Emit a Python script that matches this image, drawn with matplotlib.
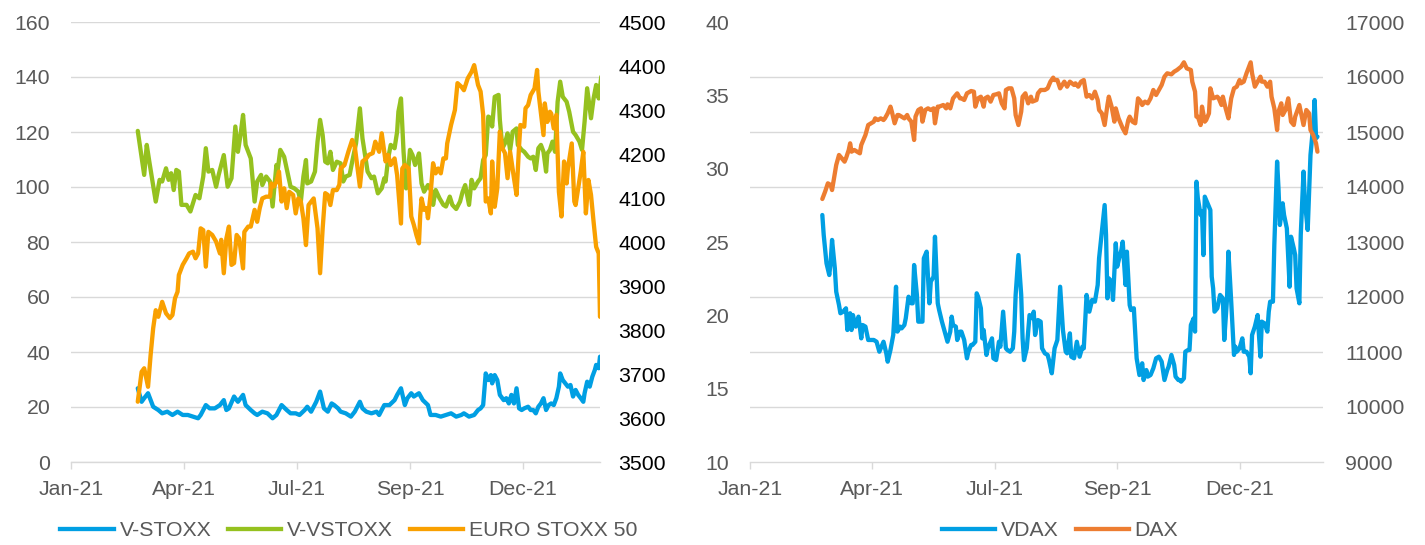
import numpy as np
import pandas as pd
import matplotlib
matplotlib.use("Agg")
import matplotlib.pyplot as plt
import matplotlib.dates as mdates
from matplotlib.lines import Line2D

plt.rcParams['font.family'] = ['Liberation Sans', 'DejaVu Sans']

# ---------------------------------------------------------------- data
# Daily observations, given as day offsets from the first trading day
START = pd.Timestamp('2021-03-01')
AXIS_START = pd.Timestamp('2021-01-08')
AXIS_END = pd.Timestamp('2022-02-24')
TICK_STEP_DAYS = 88

vstoxx_day = [0, 3, 5, 8, 12, 16, 19, 23, 27, 31, 35, 39, 43, 47, 49, 53, 56, 60, 64, 67,
              69, 71, 75, 78, 82, 84, 88, 91, 93, 97, 101, 105, 108, 112, 116, 119, 123, 126, 130, 132,
              135, 139, 142, 145, 148, 151, 153, 156, 158, 162, 166, 169, 173, 175, 178, 182, 186, 188, 192, 196,
              200, 202, 205, 208, 210, 213, 215, 219, 222, 226, 228, 232, 236, 240, 244, 248, 252, 254, 258, 262,
              265, 267, 269, 271, 273, 275, 276, 278, 280, 282, 285, 287, 289, 291, 293, 295, 297, 299, 301, 304,
              306, 308, 310, 312, 314, 316, 318, 320, 322, 324, 326, 328, 329, 331, 333, 335, 337, 339, 341, 343,
              345, 347, 348, 350, 352, 354, 356, 357, 359, 360]
vstoxx = [26.8, 21.9, 23.2, 25.0, 20.1, 18.9, 17.7, 18.3, 17.1, 18.3, 17.1, 17.1, 16.5, 15.9, 17.1, 20.7, 19.5, 19.5, 20.7, 22.5,
          18.9, 19.5, 23.8, 21.9, 24.4, 20.7, 18.9, 17.7, 17.1, 18.3, 17.7, 15.9, 17.1, 20.7, 18.9, 17.7, 17.7, 17.1, 18.9, 20.1,
          18.3, 21.9, 25.6, 19.5, 18.3, 21.3, 20.7, 19.5, 18.3, 17.7, 16.5, 18.3, 21.9, 19.5, 18.3, 17.7, 18.3, 17.1, 20.7, 20.7,
          22.5, 24.4, 26.8, 20.7, 23.2, 25.0, 23.8, 25.0, 22.5, 20.7, 17.1, 17.1, 16.5, 17.1, 17.7, 16.5, 17.1, 17.7, 16.5, 17.1,
          18.9, 19.5, 20.7, 32.2, 29.8, 31.6, 28.6, 31.6, 29.8, 24.4, 22.5, 23.2, 21.3, 24.4, 21.3, 26.8, 19.5, 18.9, 19.5, 20.1,
          18.9, 18.9, 17.7, 20.1, 21.3, 23.2, 18.9, 20.7, 21.3, 20.7, 23.2, 27.4, 32.2, 29.8, 28.6, 27.4, 28.0, 23.8, 26.2, 24.4,
          23.2, 21.9, 25.0, 29.2, 27.4, 31.0, 33.5, 35.3, 34.1, 38.3]

vvstoxx_day = [0, 5, 7, 9, 14, 17, 19, 22, 24, 26, 28, 30, 32, 34, 38, 41, 43, 45, 48, 51,
               53, 55, 58, 61, 63, 67, 70, 73, 76, 78, 80, 82, 84, 88, 91,
               93, 96, 97, 100, 103, 105, 108, 109, 111, 114, 117, 119, 122, 125, 127, 129, 131, 132, 135, 138,
               140, 142, 144, 146, 148, 150, 152, 155, 158, 160, 162, 165, 167, 170, 173,
               175, 177, 179, 182, 184, 187, 190, 192, 193, 195, 197, 200, 202, 203, 205, 207, 209, 211, 212, 214,
               216, 219, 221, 223, 226, 229, 230, 232, 235, 238, 240, 243, 245, 248, 251, 253, 255, 258, 260, 262,
               265, 267, 269, 271, 273, 275, 276, 278, 281, 282, 284, 286, 288, 290, 292, 295, 296, 299, 301, 304,
               306, 308, 310, 312, 314, 316, 318, 319, 321, 323, 325, 327, 329, 331, 334, 336, 339, 341, 344, 346,
               348, 350, 353, 355, 357, 359, 361]
vvstoxx = [120.4, 104.4, 115.3, 109.2, 94.7, 102.6, 102.0, 106.8, 102.6, 105.0, 98.9, 106.2, 105.6, 93.5, 93.5, 91.1, 94.1, 97.1, 95.9, 103.8,
           114.1, 105.6, 106.2, 100.1, 104.4, 111.6, 100.1, 103.2, 122.0, 112.8, 118.9, 126.2, 115.3, 110.4, 94.7,
           102.0, 104.4, 100.7, 103.8, 102.0, 92.9, 108.0, 106.2, 113.5, 111.0, 104.4, 100.1, 99.5, 98.3, 94.7, 103.8, 109.8, 101.3, 102.0, 105.6,
           116.5, 124.4, 118.9, 109.2, 108.6, 112.8, 106.2, 109.2, 108.6, 102.0, 103.8, 104.4, 109.2, 115.9, 128.6,
           117.7, 111.6, 105.6, 103.2, 103.8, 97.7, 99.5, 103.2, 102.0, 110.4, 115.3, 114.1, 120.1, 127.4, 132.2, 112.8, 99.5, 108.0, 113.5, 111.6,
           108.0, 112.2, 101.3, 98.3, 100.7, 98.3, 93.5, 98.9, 95.9, 93.5, 92.9, 96.5, 93.5, 92.0, 94.7, 98.3, 100.7, 93.5, 102.6, 99.5,
           102.0, 103.2, 109.8, 111.6, 125.6, 125.0, 122.0, 132.8, 133.5, 124.4, 114.1, 115.9, 119.5, 113.5, 120.1, 121.3, 115.3, 113.5, 112.8, 111.0,
           110.4, 111.0, 106.2, 114.1, 115.3, 112.8, 105.6, 112.2, 113.5, 116.5, 112.8, 131.0, 138.3, 132.8, 131.0, 127.4, 120.1, 118.9, 116.5, 113.5,
           123.8, 135.9, 125.0, 132.2, 137.1, 132.2, 140.1]

esx50_day = [0, 3, 5, 8, 10, 12, 14, 16, 19, 22, 25, 27, 29, 31, 32, 35, 38, 40, 43, 45,
             47, 49, 51, 53, 55, 58, 61, 64, 65, 67, 69, 71, 73, 75, 77, 79, 82, 83, 86, 88,
             91, 93, 95, 97, 100, 103, 104, 106, 108, 110, 112, 114, 116, 118, 121, 123, 125, 127, 129, 131,
             133, 137, 140, 142, 144, 146, 148, 150, 152, 155, 157, 158, 161, 164, 167, 169, 173, 175, 178, 180,
             183, 185, 188, 190, 193, 195, 197, 200, 202, 205, 206, 208, 211, 213, 215, 217, 219, 220, 221, 223,
             225, 226, 228, 230, 232, 234, 236, 238, 240, 241, 244, 247, 249, 252, 254, 257, 260, 262, 265, 267,
             269, 271, 273, 275, 276, 278, 280, 282, 284, 286, 288, 290, 293, 295, 297, 298, 301, 302, 304, 306,
             309, 311, 312, 314, 316, 317, 319, 321, 322, 324, 326, 328, 330, 332, 334, 335, 338, 340, 341, 343,
             345, 347, 349, 351, 353, 355, 357, 359, 360]
esx50 = [3637, 3705, 3713, 3671, 3743, 3804, 3845, 3830, 3864, 3838, 3827, 3834, 3872, 3887, 3925, 3948, 3963, 3974, 3978, 3963,
         3974, 4031, 4027, 3944, 4023, 4016, 4001, 3974, 4005, 3929, 4008, 4035, 3948, 3952, 4016, 4008, 3940, 4023, 4035, 4035,
         4073, 4046, 4077, 4099, 4103, 4103, 4133, 4126, 4137, 4160, 4092, 4122, 4077, 4114, 4107, 4065, 4099, 4092, 4054, 3993,
         4084, 4099, 4031, 3929, 4031, 4111, 4107, 4084, 4118, 4118, 4130, 4167, 4175, 4205, 4232, 4217, 4126, 4183, 4190, 4198,
         4202, 4228, 4205, 4247, 4183, 4198, 4175, 4190, 4152, 4042, 4167, 4175, 4167, 4058, 4039, 4016, 3997, 4061, 4099, 4073,
         4077, 4054, 4107, 4179, 4156, 4167, 4156, 4190, 4190, 4224, 4266, 4300, 4361, 4353, 4345, 4372, 4387, 4402, 4357, 4342,
         4289, 4092, 4099, 4065, 4183, 4080, 4122, 4251, 4213, 4202, 4145, 4205, 4145, 4107, 4220, 4266, 4262, 4304, 4311, 4334,
         4349, 4391, 4342, 4292, 4243, 4315, 4273, 4296, 4292, 4258, 4289, 4114, 4058, 4183, 4133, 4167, 4224, 4092, 4084, 4122,
         4160, 4205, 4065, 4141, 4107, 4046, 3989, 3974, 3830]

vdax_day = [0, 1, 3, 5, 6, 7, 9, 10, 12, 13, 15, 17, 18, 20, 21, 22, 24, 26, 28, 29,
            31, 33, 35, 37, 39, 41, 43, 44, 46, 47, 49, 51, 53, 54, 56, 57, 59, 60, 62, 64,
            65, 66, 68, 69, 71, 72, 73, 75, 77, 78, 80, 81, 83, 84, 86, 88, 90, 92, 93, 94,
            96, 97, 99, 100, 102, 104, 105, 107, 108, 110, 111, 112, 114, 115, 116, 118, 119, 120, 122, 123,
            125, 127, 128, 130, 132, 133, 135, 137, 138, 139, 141, 143, 144, 145, 147, 149, 151, 152, 153, 155,
            157, 158, 160, 162, 163, 165, 167, 169, 171, 173, 175, 176, 178, 179, 181, 183, 185, 187, 188, 190,
            192, 194, 196, 198, 199, 201, 203, 204, 205, 206, 208, 209, 211, 212, 214, 215, 216, 218, 219, 221,
            222, 224, 226, 228, 230, 231, 233, 234, 236, 238, 240, 242, 244, 246, 248, 249, 251, 253, 254, 256,
            257, 258, 260, 261, 263, 264, 265, 267, 268, 269, 270, 272, 273, 274, 275, 277, 279, 280, 281, 282,
            284, 286, 288, 289, 291, 292, 294, 296, 297, 298, 300, 302, 303, 305, 307, 308, 309, 311, 313, 315,
            316, 318, 320, 321, 322, 324, 325, 327, 328, 329, 331, 332, 334, 336, 337, 339, 340, 341, 343, 344,
            346, 347, 349, 351, 353, 354, 355, 356]
vdax = [26.84, 25.48, 23.55, 22.75, 23.66, 25.14, 23.20, 21.61, 20.70, 20.14, 20.25, 20.48, 19.0, 20.14, 19.0, 20.02, 19.23, 19.91, 18.43, 19.34,
        19.23, 18.32, 18.32, 18.32, 18.2, 17.52, 17.98, 18.2, 17.41, 16.84, 17.64, 18.66, 21.95, 18.89, 19.23, 19.11, 19.34, 19.8, 21.27, 20.82,
        20.82, 23.43, 21.39, 19.57, 19.57, 19.57, 23.89, 24.34, 20.82, 22.3, 22.64, 25.36, 20.82, 20.36, 19.57, 18.89, 18.2, 18.89, 19.91, 19.34,
        19.23, 18.32, 18.89, 18.89, 18.32, 17.07, 17.52, 17.98, 17.98, 18.2, 21.5, 21.27, 20.48, 18.43, 19.0, 17.3, 17.75, 17.98, 18.43, 17.07,
        16.95, 18.2, 17.86, 20.25, 17.75, 17.64, 17.52, 17.75, 18.89, 21.39, 24.11, 21.39, 18.43, 16.95, 17.75, 20.02, 19.8, 20.25, 18.66, 19.68,
        19.57, 17.75, 17.41, 17.3, 16.95, 16.05, 17.75, 18.32, 21.95, 19.0, 17.52, 17.41, 18.77, 17.18, 17.07, 18.2, 17.18, 17.86, 17.75, 21.39,
        20.25, 21.05, 20.93, 22.07, 23.89, 25.7, 27.52, 25.48, 21.16, 22.52, 22.3, 21.05, 24.91, 23.32, 24.11, 24.45, 25.02, 22.07, 24.34, 20.7,
        20.36, 20.48, 17.07, 15.93, 16.73, 15.59, 16.27, 15.82, 15.93, 16.39, 17.07, 17.18, 16.84, 15.59, 16.27, 16.5, 17.3, 16.61, 15.82, 15.59,
        15.59, 15.48, 15.7, 17.52, 17.64, 17.64, 19.34, 19.8, 18.89, 29.11, 27.98, 26.84, 27.07, 24.11, 28.09, 27.64, 27.18, 22.64, 21.84, 20.25,
        20.48, 21.39, 21.16, 18.32, 21.16, 24.34, 20.93, 17.3, 17.86, 17.52, 17.75, 18.43, 17.52, 17.52, 17.18, 16.05, 18.66, 19.23, 20.02, 17.18,
        19.57, 19.45, 18.89, 20.25, 20.93, 20.93, 24.8, 30.48, 28.66, 26.16, 27.64, 26.84, 25.93, 21.95, 25.36, 24.57, 24.11, 21.84, 20.82, 25.48,
        29.8, 27.75, 25.82, 30.93, 32.98, 34.68, 32.07, 32.18]

dax_day = [0, 2, 4, 6, 7, 9, 10, 12, 14, 16, 17, 19, 20, 21, 23, 25, 27, 28, 29, 31,
           33, 35, 37, 38, 40, 42, 44, 45, 47, 49, 50, 52, 54, 55, 57, 59, 61, 62, 64, 66,
           67, 69, 71, 72, 74, 76, 78, 80, 81, 83, 84, 87, 89, 90, 92, 94, 96, 97, 99, 100,
           102, 104, 107, 109, 110, 112, 114, 116, 117, 119, 121, 123, 125, 127, 129, 131, 132, 134, 136, 138,
           139, 141, 143, 144, 146, 148, 150, 151, 154, 155, 157, 160, 162, 164, 166, 167, 169, 171, 174, 176,
           178, 181, 182, 184, 186, 188, 190, 192, 194, 196, 198, 199, 201, 203, 205, 206, 208, 210, 211, 213,
           215, 216, 218, 220, 221, 223, 225, 227, 229, 230, 232, 234, 236, 238, 240, 242, 244, 246, 248, 251,
           253, 255, 258, 260, 262, 265, 266, 268, 269, 270, 272, 273, 275, 276, 278, 279, 281, 284, 285, 287,
           288, 290, 292, 294, 296, 298, 300, 301, 303, 305, 308, 309, 311, 313, 315, 316, 318, 320, 322, 323,
           325, 327, 328, 330, 331, 333, 335, 337, 339, 340, 343, 344, 346, 348, 350, 351, 353, 355, 356]
dax = [13782, 13915, 14067, 14036, 13945, 14248, 14400, 14582, 14521, 14461, 14521, 14673, 14794, 14642, 14673, 14642, 14612, 14764, 14824, 14945,
       15127, 15158, 15188, 15248, 15218, 15248, 15218, 15248, 15339, 15461, 15370, 15158, 15309, 15309, 15279, 15248, 15309, 15248, 15188, 14855,
       15279, 15400, 15430, 15188, 15400, 15430, 15400, 15430, 15158, 15461, 15461, 15491, 15430, 15503, 15430, 15612, 15673, 15703, 15612, 15612,
       15582, 15703, 15745, 15733, 15461, 15612, 15642, 15461, 15612, 15642, 15552, 15673, 15685, 15703, 15521, 15430, 15764, 15794, 15794, 15612,
       15309, 15127, 15370, 15642, 15703, 15521, 15642, 15552, 15582, 15703, 15764, 15764, 15794, 15915, 15988, 15945, 15945, 15794, 15915, 15824,
       15915, 15855, 15885, 15824, 15915, 15945, 15642, 15673, 15612, 15733, 15582, 15400, 15339, 15127, 15491, 15642, 15461, 15188, 15430, 15248,
       15127, 15067, 14976, 15218, 15279, 15188, 15158, 15612, 15552, 15491, 15552, 15521, 15612, 15764, 15673, 15764, 15855, 16006, 16067, 16048,
       16097, 16127, 16188, 16267, 16158, 16127, 15915, 15733, 15279, 15279, 15127, 15461, 15188, 15218, 15339, 15794, 15612, 15642, 15612, 15491,
       15642, 15430, 15248, 15612, 15794, 15824, 15945, 15885, 15915, 16067, 16267, 16067, 15824, 15915, 16006, 15915, 15915, 15824, 15915, 15642,
       15430, 15036, 15370, 15521, 15309, 15400, 15612, 15188, 15127, 15279, 15491, 15370, 15127, 15400, 15339, 15036, 14945, 14794, 14642]

# ---------------------------------------------------------------- style
C_BLUE = '#009FE3'
C_GREEN = '#95C11F'
C_AMBER = '#F9A000'
C_ORANGE = '#ED7D31'
C_GRID = '#D9D9D9'
C_TEXT = '#595959'
FS = 15.3
LW = 3.1

W, H = 1425, 545


def dates(days):
    return START + pd.to_timedelta(np.asarray(days), unit='D')


def setup_x(ax):
    ax.set_xlim(AXIS_START, AXIS_END)
    ticks = pd.date_range(AXIS_START, AXIS_END, freq=f'{TICK_STEP_DAYS}D')
    ax.set_xticks(ticks)
    ax.xaxis.set_major_formatter(mdates.DateFormatter('%b-%y'))
    ax.tick_params(axis='x', direction='out', length=5, width=1, color=C_GRID,
                   labelsize=FS, labelcolor=C_TEXT, pad=8)
    for side in ('top', 'left', 'right'):
        ax.spines[side].set_visible(False)
    ax.spines['bottom'].set_color(C_GRID)
    ax.spines['bottom'].set_linewidth(1)


def setup_y(ax, lo, hi, step, color, pad):
    ax.set_ylim(lo, hi)
    ax.set_yticks(np.arange(lo, hi + step / 2, step))
    ax.tick_params(axis='y', length=0, labelsize=FS, labelcolor=color, pad=pad)


def line(ax, days, values, color):
    ax.plot(dates(days), values, color=color, lw=LW,
            solid_joinstyle='round', solid_capstyle='round')


legend_style = dict(loc='center', frameon=False, fontsize=FS, labelcolor=C_TEXT,
                    handlelength=2.5, handletextpad=0.28, columnspacing=0.8)

fig = plt.figure(figsize=(W / 100, H / 100), dpi=100)

# ------------------------------------------------ left panel: EURO STOXX 50
axL = fig.add_axes([71 / W, 1 - 462 / H, 529 / W, 440 / H])
axL2 = axL.twinx()
setup_x(axL)
setup_y(axL, 0, 160, 20, C_TEXT, 15)
setup_y(axL2, 3500, 4500, 100, 'black', 13)
for s in axL2.spines.values():
    s.set_visible(False)
axL.grid(axis='y', color=C_GRID, lw=1)
axL.set_axisbelow(True)

line(axL, vstoxx_day, vstoxx, C_BLUE)
line(axL, vvstoxx_day, vvstoxx, C_GREEN)
line(axL2, esx50_day, esx50, C_AMBER)

handles_L = [Line2D([], [], color=c, lw=LW) for c in (C_BLUE, C_GREEN, C_AMBER)]
fig.legend(handles_L, ['V-STOXX', 'V-VSTOXX', 'EURO STOXX 50'], ncol=3,
           bbox_to_anchor=(349 / W, 1 - 531 / H), **legend_style)

# ------------------------------------------------ right panel: DAX
axR = fig.add_axes([750 / W, 1 - 462 / H, 573 / W, 440 / H])
axR2 = axR.twinx()
setup_x(axR)
setup_y(axR, 10, 40, 5, C_TEXT, 15)
setup_y(axR2, 9000, 17000, 1000, C_TEXT, 16)
for s in axR2.spines.values():
    s.set_visible(False)
# horizontal grid follows the DAX scale; drawn on the lower axes so it stays behind the lines
axR.set_yticks(np.linspace(10, 40, 9), minor=True)
axR.tick_params(axis='y', which='minor', length=0)
axR.grid(axis='y', which='minor', color=C_GRID, lw=1)
axR.set_axisbelow(True)

line(axR, vdax_day, vdax, C_BLUE)
line(axR2, dax_day, dax, C_ORANGE)

handles_R = [Line2D([], [], color=c, lw=LW) for c in (C_BLUE, C_ORANGE)]
fig.legend(handles_R, ['VDAX', 'DAX'], ncol=2,
           bbox_to_anchor=(1060 / W, 1 - 531 / H), **legend_style)

fig.savefig('out.png', dpi=100)
